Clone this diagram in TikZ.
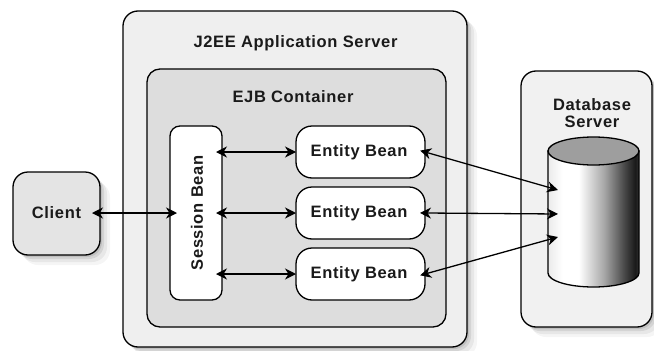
\documentclass[tikz,border=0pt]{standalone}
\usepackage{fontspec}
\setmainfont{Liberation Sans}
\newfontfamily\lblfont[LetterSpace=4]{Liberation Sans}
\usetikzlibrary{arrows.meta,shadows}
\pgfdeclarehorizontalshading{cylshade}{100bp}{color(0bp)=(white); color(25bp)=(black!8); color(33bp)=(white); color(42bp)=(white); color(56bp)=(black!35); color(67bp)=(black!72); color(73bp)=(black!90); color(75bp)=(black!80); color(100bp)=(black!80)}
\definecolor{outerfill}{HTML}{EFEFEF}
\definecolor{ejbfill}{HTML}{DDDDDD}
\definecolor{clientfill}{HTML}{E4E4E4}
\definecolor{dbfill}{HTML}{F1F1F1}
\definecolor{txt}{HTML}{1A1A1A}
\tikzset{
  softshadow/.style={
    drop shadow={shadow xshift=2pt,shadow yshift=-2pt,opacity=.10,fill=black},
    drop shadow={shadow xshift=4pt,shadow yshift=-4pt,opacity=.08,fill=black},
    drop shadow={shadow xshift=7pt,shadow yshift=-7pt,opacity=.06,fill=black},
    drop shadow={shadow xshift=10pt,shadow yshift=-10pt,opacity=.04,fill=black}},
  box/.style={draw=black, line width=1.3pt, inner sep=0pt, outer sep=0pt},
  lbl/.style={font=\lblfont\bfseries\fontsize{16.5}{17}\selectfont, text=txt, inner sep=0pt},
  arr/.style={line width=1.3pt, {Stealth[length=11pt,width=11pt,inset=3.5pt]}-{Stealth[length=11pt,width=11pt,inset=3.5pt]}}
}
\begin{document}
\begin{tikzpicture}[x=1pt,y=-1pt]
\useasboundingbox (0,0) rectangle (654,351);
% outer server
\node[box, softshadow, fill=outerfill, rounded corners=15pt, minimum width=344pt, minimum height=336pt] (j2ee) at (295,179) {};
\node[lbl, anchor=base] (j2eelbl) at (295.5,47) {J2EE Application Server};
% EJB container
\node[box, fill=ejbfill, rounded corners=13pt, minimum width=299pt, minimum height=258pt] (ejb) at (296.5,198) {};
\node[lbl, anchor=base] (ejblbl) at (293,102) {EJB Container};
% session bean
\node[box, fill=white, rounded corners=10pt, minimum width=52pt, minimum height=174pt] (sb) at (196,213) {};
\node[lbl, rotate=90] (sblbl) at (197,213) {Session Bean};
% entity beans
\foreach \i/\yy in {1/152,2/213,3/274}{
  \node[box, fill=white, rounded corners=16pt, minimum width=129pt, minimum height=52pt] (e\i) at (360.5,\yy) {};
  \node[lbl] (e\i lbl) at (359,\yy) {Entity Bean};
}
% client
\node[box, softshadow, fill=clientfill, rounded corners=15pt, minimum width=87pt, minimum height=83pt] (client) at (56.5,213.5) {};
\node[lbl] (clientlbl) at (56.5,213) {Client};
% database server
\node[box, softshadow, fill=dbfill, rounded corners=15pt, minimum width=131pt, minimum height=256pt] (dbs) at (586.5,199) {};
\node[lbl, align=center] (dblbl) at (592,113) {Database\\Server};
% cylinder
\draw[line width=1.3pt, shading=cylshade] (548,151) -- (548,273) arc[start angle=180, end angle=0, x radius=45.5, y radius=14] -- (639,151) -- cycle;
\draw[line width=1.3pt, fill=black!38] (593.5,151) ellipse[x radius=45.5, y radius=14];
\coordinate (d1) at (558,190);
\coordinate (d2) at (558,214);
\coordinate (d3) at (558,237);
% connectors
\draw[arr, shorten <=-8pt, shorten >=-7pt] (client.east |- sb.west) -- (sb.west);
\foreach \i in {1,2,3}{
  \draw[arr, shorten <=-6pt] (sb.east |- e\i.west) -- (e\i.west);
  \draw[arr, shorten <=-5pt] (e\i.east) -- (d\i);
}
\end{tikzpicture}
\end{document}
